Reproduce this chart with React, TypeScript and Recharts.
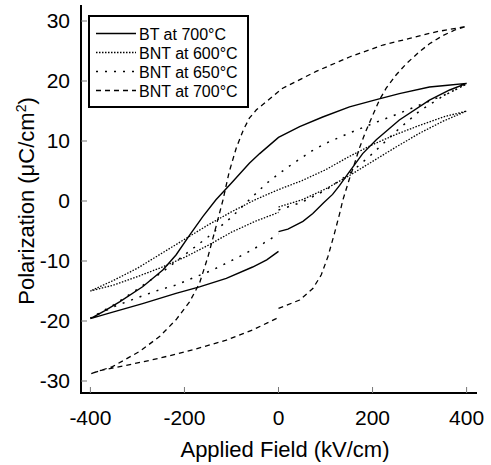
import React from 'react';
import { LineChart, Line, XAxis, YAxis, Legend } from 'recharts';

const FONT = '"Liberation Sans", Arial, Helvetica, sans-serif';

const seriesNames = ['BT at 700°C', 'BNT at 600°C', 'BNT at 650°C', 'BNT at 700°C'];
const xTicks = [-400, -200, 0, 200, 400];
const yTicks = [-30, -20, -10, 0, 10, 20, 30];

// Each loop: start at E = 0, up to +400, down to -400, back up to 0 (kV/cm, µC/cm²)
const btField = [
  0, 20, 52, 73, 96, 115, 130, 151, 179, 208, 257, 321, 364, 400,
  360, 321, 257, 208, 151, 94, 45, 0, -40, -62, -100, -133, -161, -189, -218, -246, -289, -338, -370, -400,
  -360, -289, -218, -168, -111, -55, -25, 0,
];
const btPol = [
  -5.1, -4.7, -3.4, -2.1, -0.3, 1.1, 2.6, 4.9, 7.9, 10.2, 13.5, 16.8, 18.5, 19.6,
  19.3, 19.0, 17.9, 16.9, 15.7, 14.0, 12.4, 10.6, 7.9, 6.3, 3.0, 0.2, -2.6, -5.7, -9.0, -11.5, -14.3, -16.8, -18.3, -19.6,
  -18.7, -17.1, -15.4, -14.3, -12.9, -11.0, -9.8, -8.4,
];

const bnt600Field = [
  0, 50, 100, 150, 200, 250, 300, 350, 400,
  350, 300, 250, 200, 150, 100, 50, 0, -50, -100, -150, -200, -250, -300, -350, -400,
  -350, -300, -250, -200, -150, -100, -50, 0,
];
const bnt600Pol = [
  -1.0, 0.2, 2.0, 4.2, 6.6, 9.0, 11.3, 13.3, 15.0,
  14.0, 12.6, 11.1, 9.4, 7.4, 5.2, 3.4, 1.9, 0.2, -1.8, -4.0, -6.4, -8.8, -11.2, -13.2, -15.0,
  -14.0, -12.6, -11.1, -9.4, -7.4, -5.2, -3.4, -1.9,
];

const bnt650Field = [
  0, 50, 100, 150, 200, 250, 300, 350, 400,
  357, 300, 250, 200, 150, 100, 70, 30, 0, -26, -62, -100, -150, -200, -250, -300, -350, -400,
  -350, -296, -253, -218, -175, -140, -104, -69, -33, 0,
];
const bnt650Pol = [
  -1.5, -0.2, 1.8, 4.5, 7.9, 11.6, 15.0, 17.5, 19.5,
  17.8, 16.0, 14.4, 12.9, 11.3, 9.6, 8.3, 6.2, 4.5, 2.9, 0.2, -2.7, -6.0, -9.0, -12.0, -14.7, -17.3, -19.5,
  -17.6, -16.0, -14.8, -14.0, -12.6, -11.5, -10.1, -8.7, -7.1, -5.5,
];

const bnt700Field = [
  0, 45, 73, 91, 105, 119, 130, 137, 150, 162, 172, 185, 201, 215, 229, 250, 272, 300, 321, 350, 375, 400,
  335, 279, 222, 151, 80, 9, -47, -62, -75, -90, -105, -118, -133, -150, -168, -189, -218, -253, -296, -353, -400,
  -381, -324, -253, -182, -111, -55, -5, 0,
];
const bnt700Pol = [
  -17.9, -16.5, -14.6, -12.3, -9.3, -5.4, -2.1, 0.2, 3.5, 6.3, 8.8, 11.5, 14.4, 16.9, 18.8, 21.0, 22.9, 24.9, 26.2, 27.6, 28.5, 29.1,
  28.2, 27.1, 26.0, 24.0, 21.6, 18.8, 15.2, 13.8, 11.8, 8.8, 4.8, 0.2, -4.3, -9.3, -13.7, -16.8, -19.8, -22.6, -25.1, -27.6, -28.8,
  -28.3, -27.4, -26.2, -24.8, -23.2, -21.5, -19.6, -19.3,
];

const toPoints = (e: number[], p: number[]) => e.map((E, i) => ({ E, P: p[i] }));

const seriesData = [
  toPoints(btField, btPol),
  toPoints(bnt600Field, bnt600Pol),
  toPoints(bnt650Field, bnt650Pol),
  toPoints(bnt700Field, bnt700Pol),
];

const lineStyles = [
  { dash: undefined as string | undefined, width: 1.4 },
  { dash: '1.5 1.5', width: 1.3 },
  { dash: '2 7', width: 1.5 },
  { dash: '5 4', width: 1.3 },
];

const LegendBox = () => (
  <svg width={161} height={93} style={{ display: 'block' }}>
    <rect x={1} y={1} width={159} height={91} fill="#fff" stroke="#000" strokeWidth={2} />
    {seriesNames.map((name, i) => {
      const cy = 18.5 + i * 19;
      return (
        <g key={name}>
          <line x1={8} x2={48} y1={cy} y2={cy} stroke="#000" strokeWidth={lineStyles[i].width}
            strokeDasharray={lineStyles[i].dash} />
          <text x={51} y={cy + 6} fontSize={16} fontFamily={FONT} fill="#000">{name}</text>
        </g>
      );
    })}
  </svg>
);

const XTitle = () => (
  <text x={285} y={457} textAnchor="middle" fontSize={22} fontFamily={FONT} fill="#000">
    Applied Field (kV/cm)
  </text>
);

const YTitle = () => (
  <text transform="translate(34,201) rotate(-90)" textAnchor="middle" fontSize={22} fontFamily={FONT} fill="#000">
    Polarization (μC/cm<tspan dy={-8} fontSize={14}>2</tspan><tspan dy={8}>)</tspan>
  </text>
);

export default function App() {
  return (
    <div style={{ position: 'absolute', left: 0, top: 0, background: '#fff' }}>
      <LineChart width={491} height={465} margin={{ top: 6, right: 15, bottom: 0, left: 0 }}>
        <XAxis
          dataKey="E"
          type="number"
          domain={[-420, 420]}
          ticks={xTicks}
          interval={0}
          allowDataOverflow
          height={72}
          tickSize={-6}
          tickMargin={23}
          axisLine={{ stroke: '#000', strokeWidth: 2, strokeLinecap: 'square' }}
          tickLine={{ stroke: '#777', strokeWidth: 1 }}
          tick={{ fill: '#000', fontSize: 21, fontFamily: FONT }}
          label={() => <XTitle />}
        />
        <XAxis
          xAxisId="top"
          orientation="top"
          type="number"
          domain={[-420, 420]}
          height={0}
          tick={false}
          tickLine={false}
          allowDataOverflow
          axisLine={{ stroke: '#000', strokeWidth: 2, strokeLinecap: 'square' }}
        />
        <YAxis
          type="number"
          domain={[-32, 32.5]}
          ticks={yTicks}
          interval={0}
          allowDataOverflow
          width={81}
          tickSize={-6}
          tickMargin={17}
          axisLine={{ stroke: '#000', strokeWidth: 2, strokeLinecap: 'square' }}
          tickLine={{ stroke: '#777', strokeWidth: 1 }}
          tick={{ fill: '#000', fontSize: 21, fontFamily: FONT }}
          label={() => <YTitle />}
        />
        <YAxis
          yAxisId="right"
          orientation="right"
          type="number"
          domain={[-32, 32.5]}
          width={0}
          tick={false}
          tickLine={false}
          allowDataOverflow
          axisLine={{ stroke: '#000', strokeWidth: 2, strokeLinecap: 'square' }}
        />
        <Legend
          layout="vertical"
          align="center"
          verticalAlign="middle"
          content={() => <LegendBox />}
          wrapperStyle={{ left: 88, top: 15, width: 161, height: 93, margin: 0, padding: 0, lineHeight: 0 }}
        />
        {seriesData.map((d, i) => (
          <Line
            key={seriesNames[i]}
            name={seriesNames[i]}
            data={d}
            dataKey="P"
            type="linear"
            stroke="#000"
            strokeWidth={lineStyles[i].width}
            strokeDasharray={lineStyles[i].dash}
            dot={false}
            activeDot={false}
            isAnimationActive={false}
          />
        ))}
      </LineChart>
    </div>
  );
}
